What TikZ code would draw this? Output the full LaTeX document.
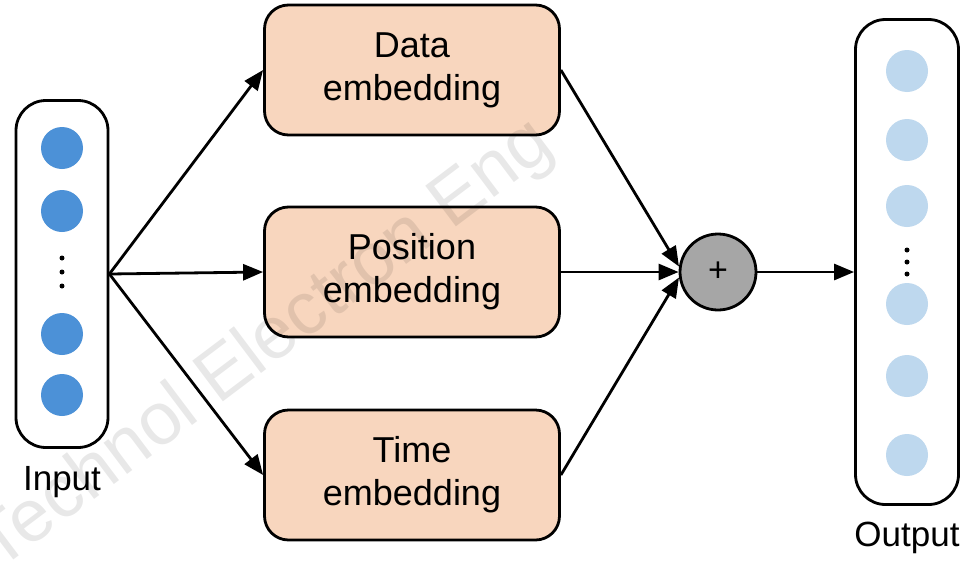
\documentclass[tikz,border=0pt]{standalone}
\usepackage{fontspec}
\setmainfont{Liberation Sans}
\usetikzlibrary{arrows.meta}
\definecolor{peach}{RGB}{248,214,190}
\definecolor{indotc}{RGB}{76,145,215}
\definecolor{outdotc}{RGB}{190,216,238}
\definecolor{sumgray}{RGB}{166,166,166}
\tikzset{
  frame/.style={draw=black, line width=2.8pt, rounded corners=30pt, fill=white},
  embox/.style={draw=black, line width=2.8pt, rounded corners=24pt, fill=peach,
    minimum width=295pt, minimum height=130pt, align=center,
    font=\fontsize{36}{43}\selectfont},
  indot/.style={circle, fill=indotc, minimum size=42pt, inner sep=0pt},
  outdot/.style={circle, fill=outdotc, minimum size=42pt, inner sep=0pt},
  smalldot/.style={circle, fill=black, minimum size=5pt, inner sep=0pt},
  sumnode/.style={circle, draw=black, line width=2.8pt, fill=sumgray,
    minimum size=76pt, inner sep=0pt, font=\fontsize{34}{34}\selectfont},
  conn/.style={line width=2.8pt, -{Triangle[length=20pt,width=16pt]}},
  caption/.style={font=\fontsize{35}{40}\selectfont}
}
\begin{document}
\begin{tikzpicture}[x=1pt,y=-1pt]
\useasboundingbox (0,0) rectangle (974,560);

% input column
\node[frame, minimum width=92pt, minimum height=347pt] (in) at (62,274) {};
\node[indot] (i1) at (62,148) {};
\node[indot] (i2) at (62,211) {};
\node[indot] (i3) at (62,334) {};
\node[indot] (i4) at (62,395) {};
\node[smalldot] (iv1) at (62,258) {};
\node[smalldot] (iv2) at (62,272) {};
\node[smalldot] (iv3) at (62,286) {};
\node[caption] (inlab) at (62,482) {Input};

% embedding blocks
\node[embox] (data) at (412,70) {\raisebox{3pt}{Data}\\\raisebox{3pt}{embedding}};
\node[embox] (pos) at (412,272) {\raisebox{3pt}{Position}\\\raisebox{3pt}{embedding}};
\node[embox] (time) at (412,475) {\raisebox{3pt}{Time}\\\raisebox{3pt}{embedding}};

% summation
\node[sumnode] (sum) at (718,272) {+};

% output column
\node[frame, minimum width=103pt, minimum height=485pt] (out) at (907,262) {};
\node[outdot] (o1) at (907,71) {};
\node[outdot] (o2) at (907,140) {};
\node[outdot] (o3) at (907,206) {};
\node[outdot] (o4) at (907,304) {};
\node[outdot] (o5) at (907,376) {};
\node[outdot] (o6) at (907,455) {};
\node[smalldot] (ov1) at (907,250) {};
\node[smalldot] (ov2) at (907,262) {};
\node[smalldot] (ov3) at (907,274) {};
\node[caption] (outlab) at (907,538) {Output};

% connectors
\draw[conn] (in.east) -- (data.west);
\draw[conn] (in.east) -- (pos.west);
\draw[conn] (in.east) -- (time.west);
\draw[conn] (data.east) -- (sum.172);
\draw[conn] (pos.east) -- (sum.west);
\draw[conn] (time.east) -- (sum.188);
\draw[conn] (sum.east) -- (sum.east -| out.west);

% watermark
\node[rotate=37, text=black, text opacity=0.09, font=\fontsize{74}{74}\selectfont] (wm) at (266,346) {Technol Electron Eng};
\end{tikzpicture}
\end{document}
